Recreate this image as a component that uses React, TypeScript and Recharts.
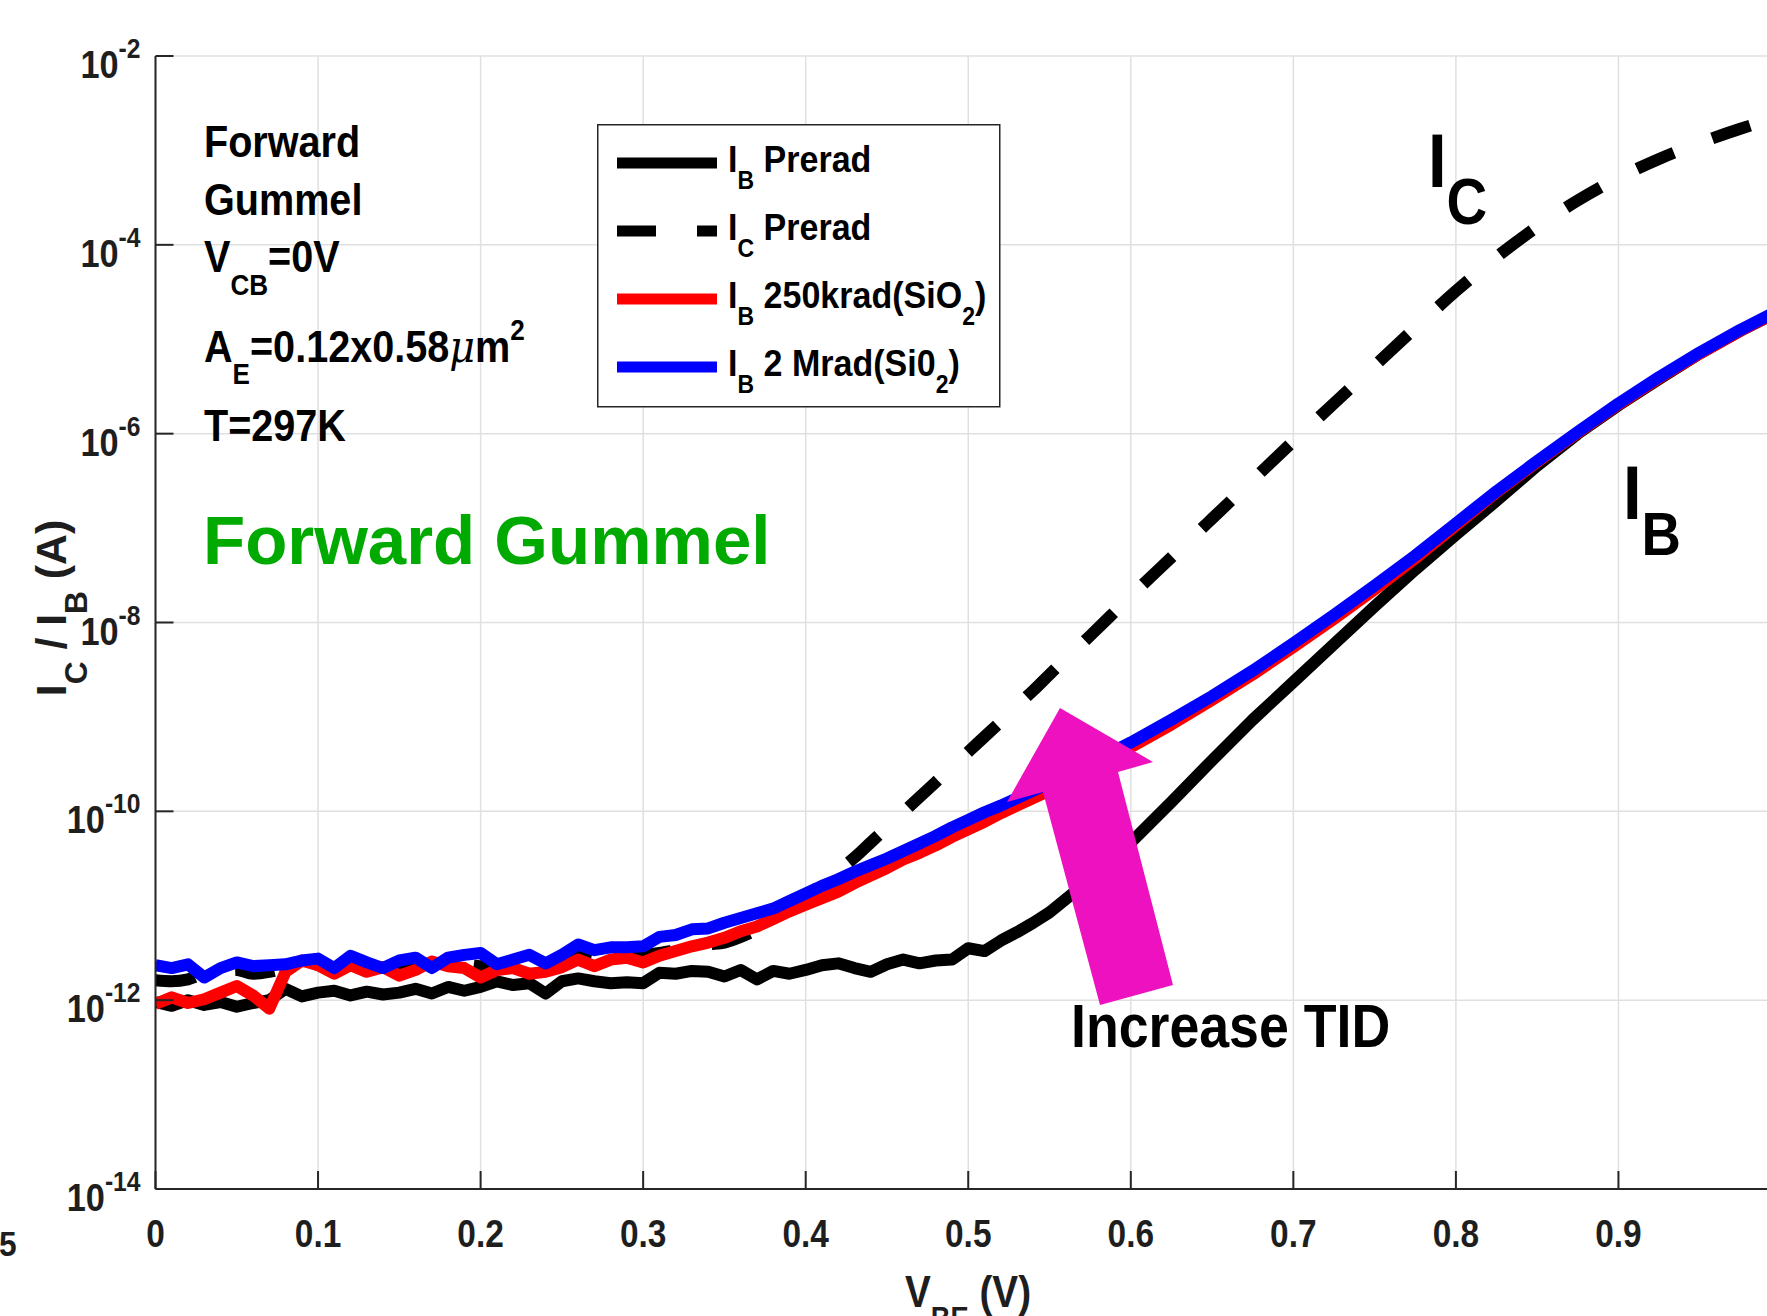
import React from "react";
import { LineChart, Line, XAxis, YAxis, CartesianGrid, Legend } from "recharts";

// Forward Gummel, V_CB = 0 V. Currents kept as log10(I [A]).
const VBE = [
  0, 0.01, 0.02, 0.03, 0.04, 0.05, 0.06, 0.07, 0.08, 0.09,
  0.1, 0.11, 0.12, 0.13, 0.14, 0.15, 0.16, 0.17, 0.18, 0.19,
  0.2, 0.21, 0.22, 0.23, 0.24, 0.25, 0.26, 0.27, 0.28, 0.29,
  0.3, 0.31, 0.32, 0.33, 0.34, 0.35, 0.36, 0.37, 0.38, 0.39,
  0.4, 0.41, 0.42, 0.43, 0.44, 0.45, 0.46, 0.47, 0.48, 0.49,
  0.5, 0.51, 0.52, 0.53, 0.54, 0.55,
  0.575, 0.6, 0.625, 0.65, 0.675, 0.7, 0.725, 0.75, 0.775, 0.8,
  0.825, 0.85, 0.875, 0.9, 0.925, 0.95, 0.975, 1.0,
];

const IB_PRERAD_LOG = [
  -12.02, -12.06, -12.0, -12.05, -12.02, -12.07, -12.03, -12.0, -11.88, -11.96,
  -11.92, -11.9, -11.95, -11.91, -11.94, -11.92, -11.88, -11.93, -11.86, -11.9,
  -11.86, -11.8, -11.84, -11.82, -11.93, -11.8, -11.77, -11.8, -11.82, -11.81,
  -11.82, -11.71, -11.72, -11.69, -11.7, -11.75, -11.68, -11.78, -11.69, -11.72,
  -11.68, -11.63, -11.61, -11.66, -11.7, -11.62, -11.57, -11.61, -11.58, -11.57,
  -11.45, -11.48, -11.37, -11.28, -11.18, -11.07,
  -10.72, -10.33, -9.9, -9.46, -9.03, -8.63, -8.23, -7.83, -7.44, -7.07,
  -6.71, -6.34, -6.0, -5.7, -5.42, -5.15, -4.91, -4.69,
];

const IC_PRERAD_LOG = [
  -11.79, -11.8, -11.78, -11.72, -11.7, -11.68, -11.72, -11.7, -11.66, -11.62,
  -11.62, -11.66, -11.6, -11.64, -11.63, -11.64, -11.6, -11.62, -11.6, -11.62,
  -11.64, -11.64, -11.62, -11.62, -11.65, -11.6, -11.52, -11.56, -11.52, -11.5,
  -11.52, -11.5, -11.47, -11.44, -11.41, -11.39, -11.33, -11.25, -11.15, -11.03,
  -10.9, -10.77, -10.63, -10.49, -10.33, -10.17, -10.01, -9.85, -9.69, -9.53,
  -9.37, -9.21, -9.05, -8.88, -8.72, -8.55,
  -8.14, -7.72, -7.31, -6.9, -6.49, -6.08, -5.68, -5.28, -4.88, -4.49,
  -4.13, -3.81, -3.53, -3.29, -3.09, -2.92, -2.77, -2.64,
];

const IB_250K_LOG = [
  -12.04, -11.97, -12.03, -11.99, -11.92, -11.85, -11.95, -12.09, -11.7, -11.58,
  -11.63, -11.72, -11.63, -11.7, -11.65, -11.74, -11.68, -11.59, -11.64, -11.66,
  -11.76, -11.68, -11.66, -11.72, -11.7, -11.65, -11.57, -11.64, -11.57, -11.55,
  -11.6, -11.53, -11.48, -11.43, -11.39, -11.34, -11.27, -11.22, -11.14, -11.06,
  -10.99, -10.92, -10.85, -10.76, -10.68, -10.6, -10.51, -10.44, -10.36, -10.27,
  -10.19, -10.11, -10.02, -9.94, -9.86, -9.78,
  -9.55, -9.32, -9.08, -8.82, -8.55, -8.26, -7.96, -7.65, -7.32, -6.97,
  -6.62, -6.3, -5.99, -5.69, -5.41, -5.15, -4.91, -4.69,
];

const IB_2M_LOG = [
  -11.63, -11.66, -11.62, -11.76, -11.66, -11.6, -11.64, -11.63, -11.62, -11.58,
  -11.56, -11.66, -11.53, -11.6, -11.66, -11.58, -11.55, -11.66, -11.55, -11.52,
  -11.5, -11.62, -11.57, -11.52, -11.61, -11.52, -11.41, -11.47, -11.44, -11.44,
  -11.43, -11.33, -11.31, -11.25, -11.24, -11.18, -11.13, -11.08, -11.03, -10.95,
  -10.87, -10.79, -10.72, -10.64, -10.57, -10.5, -10.42, -10.34, -10.26, -10.17,
  -10.09, -10.01, -9.94, -9.86, -9.78, -9.7,
  -9.49, -9.27, -9.03, -8.78, -8.51, -8.22, -7.92, -7.61, -7.29, -6.95,
  -6.61, -6.29, -5.98, -5.68, -5.4, -5.14, -4.9, -4.68,
];

const X_TICKS = [0, 0.1, 0.2, 0.3, 0.4, 0.5, 0.6, 0.7, 0.8, 0.9];
const Y_TICKS = [1e-14, 1e-12, 1e-10, 1e-8, 1e-6, 1e-4, 1e-2];

const rows = VBE.map((v, i) => ({
  v,
  ibPre: Math.pow(10, IB_PRERAD_LOG[i]),
  icPre: Math.pow(10, IC_PRERAD_LOG[i]),
  ib250: Math.pow(10, IB_250K_LOG[i]),
  ib2m: Math.pow(10, IB_2M_LOG[i]),
}));

const FONT = "'Liberation Sans', Arial, Helvetica, sans-serif";
const SQ = 0.88; // the figure uses a narrow bold face
const AXIS = "#262626";
const TICK_LEN = 18;
const LINE_W = 12;

type Part = { t: string; sub?: boolean; sup?: boolean; mu?: boolean };

function Rich({ parts, size, small, down, up = 0 }: { parts: Part[]; size: number; small: number; down: number; up?: number }) {
  let cur = 0;
  return (
    <>
      {parts.map((p, i) => {
        const target = p.sub ? down : p.sup ? -up : 0;
        const dy = target - cur;
        cur = target;
        const extra = p.mu
          ? { fontFamily: "'DejaVu Serif', serif", fontStyle: "italic", fontWeight: 400 }
          : {};
        return (
          <tspan key={i} dy={dy} fontSize={p.sub || p.sup ? small : size} {...extra}>
            {p.t}
          </tspan>
        );
      })}
    </>
  );
}

function NText({ x, y, size, anchor = "start", fill = "#000", scale = SQ, rotate = 0, children }: any) {
  return (
    <text
      transform={`translate(${x},${y}) rotate(${rotate}) scale(${scale},1)`}
      fontSize={size}
      fontFamily={FONT}
      fontWeight={700}
      textAnchor={anchor}
      fill={fill}
      style={{ whiteSpace: "pre" }}
    >
      {children}
    </text>
  );
}

// tick helpers: tickSize 0 and tickMargin 0, so (x, y) is where the tick meets the axis
function BottomTick({ x, y, payload }: any) {
  const label = Number(payload.value.toFixed(1)).toString();
  return (
    <g>
      <line x1={x} x2={x} y1={y} y2={y - TICK_LEN} stroke={AXIS} strokeWidth={2} />
      <NText x={x} y={y + 58} size={38} anchor="middle" fill="#1e1e1e">{label}</NText>
    </g>
  );
}

function TopTick({ x, y }: any) {
  return <line x1={x} x2={x} y1={y} y2={y + TICK_LEN} stroke={AXIS} strokeWidth={2} />;
}

function LeftTick({ x, y, payload }: any) {
  const exp = Math.round(Math.log10(payload.value));
  return (
    <g>
      <line x1={x} x2={x + TICK_LEN} y1={y} y2={y} stroke={AXIS} strokeWidth={2} />
      <NText x={x - 15} y={y + 22} size={39} anchor="end" fill="#1e1e1e">
        <Rich parts={[{ t: "10" }, { t: String(exp), sup: true }]} size={39} small={28} down={0} up={20} />
      </NText>
    </g>
  );
}

function RightTick({ x, y }: any) {
  return <line x1={x} x2={x - TICK_LEN} y1={y} y2={y} stroke={AXIS} strokeWidth={2} />;
}

const LEGEND_ITEMS: { color: string; dash?: string; parts: Part[] }[] = [
  { color: "#000000", parts: [{ t: "I" }, { t: "B", sub: true }, { t: " Prerad" }] },
  { color: "#000000", dash: "39 41", parts: [{ t: "I" }, { t: "C", sub: true }, { t: " Prerad" }] },
  { color: "#ff0000", parts: [{ t: "I" }, { t: "B", sub: true }, { t: " 250krad(SiO" }, { t: "2", sub: true }, { t: ")" }] },
  { color: "#0000ff", parts: [{ t: "I" }, { t: "B", sub: true }, { t: " 2 Mrad(Si0" }, { t: "2", sub: true }, { t: ")" }] },
];

function LegendBox() {
  return (
    <svg width={404} height={284} style={{ display: "block" }}>
      <rect x={0.75} y={0.75} width={402} height={282} fill="#fff" stroke={AXIS} strokeWidth={1.5} />
      {LEGEND_ITEMS.map((it, i) => {
        const cy = 39 + i * 68;
        return (
          <g key={i}>
            <line x1={20} x2={120} y1={cy} y2={cy} stroke={it.color} strokeWidth={11} strokeDasharray={it.dash} />
            <NText x={131} y={cy + 9} size={37} scale={0.92}>
              <Rich parts={it.parts} size={37} small={25} down={17} />
            </NText>
          </g>
        );
      })}
    </svg>
  );
}

function Overlay() {
  return (
    <svg
      width={1767}
      height={1316}
      style={{ position: "absolute", left: 0, top: 0, pointerEvents: "none" }}
    >
      {/* condition block */}
      <NText x={204} y={157} size={44} scale={0.9}>Forward</NText>
      <NText x={204} y={215} size={44} scale={0.9}>Gummel</NText>
      <NText x={204} y={272} size={44} scale={0.9}>
        <Rich parts={[{ t: "V" }, { t: "CB", sub: true }, { t: "=0V" }]} size={44} small={29} down={23} />
      </NText>
      <NText x={204} y={362} size={44} scale={0.9}>
        <Rich
          parts={[{ t: "A" }, { t: "E", sub: true }, { t: "=0.12x0.58" }, { t: "\u03bc", mu: true }, { t: "m" }, { t: "2", sup: true }]}
          size={44}
          small={29}
          down={22}
          up={22}
        />
      </NText>
      <NText x={204} y={441} size={44} scale={0.9}>T=297K</NText>

      <NText x={203} y={564} size={69} scale={1} fill="#00aa00">Forward Gummel</NText>

      {/* curve labels */}
      <NText x={1428} y={187} size={76}>
        <Rich parts={[{ t: "I" }, { t: "C", sub: true }]} size={76} small={64} down={37} />
      </NText>
      <NText x={1623} y={519} size={76}>
        <Rich parts={[{ t: "I" }, { t: "B", sub: true }]} size={76} small={62} down={36} />
      </NText>

      {/* TID arrow */}
      <polygon points="1060,708 1153,762 1118,772 1173,985 1100,1005 1043,792 1007,802" fill="#ee11c0" />
      <NText x={1071} y={1047} size={61}>Increase TID</NText>

      {/* axis titles */}
      <NText x={968} y={1307} size={44} anchor="middle" fill="#1e1e1e">
        <Rich parts={[{ t: "V" }, { t: "BE", sub: true }, { t: " (V)" }]} size={44} small={31} down={22} />
      </NText>
      <NText x={66} y={608} size={42} scale={1.02} anchor="middle" rotate={-90} fill="#1e1e1e">
        <Rich parts={[{ t: "I" }, { t: "C", sub: true }, { t: " / I" }, { t: "B", sub: true }, { t: " (A)" }]} size={42} small={31} down={21} />
      </NText>

      {/* fragment of the neighbouring panel */}
      <NText x={-1} y={1256} size={36} fill="#1e1e1e">5</NText>
    </svg>
  );
}

export default function App() {
  return (
    <div style={{ position: "absolute", left: 0, top: 0, width: 1767, height: 1316, overflow: "hidden", background: "#fff" }}>
      <LineChart width={1781} height={1316} data={rows} margin={{ top: 56, right: 0, bottom: 0, left: 0 }}>
        <CartesianGrid stroke="#e0e0e0" strokeWidth={1.5} />
        <XAxis
          dataKey="v"
          type="number"
          domain={[0, 1]}
          ticks={X_TICKS}
          interval={0}
          allowDataOverflow
          height={127}
          tickSize={0}
          tickMargin={0}
          tickLine={false}
          axisLine={{ stroke: AXIS, strokeWidth: 2 }}
          tick={<BottomTick />}
        />
        <XAxis
          xAxisId="top"
          orientation="top"
          dataKey="v"
          type="number"
          domain={[0, 1]}
          ticks={X_TICKS}
          interval={0}
          allowDataOverflow
          height={0}
          tickSize={0}
          tickMargin={0}
          tickLine={false}
          axisLine={{ stroke: AXIS, strokeWidth: 2 }}
          tick={<TopTick />}
        />
        <YAxis
          type="number"
          scale="log"
          domain={[1e-14, 1e-2]}
          ticks={Y_TICKS}
          interval={0}
          allowDataOverflow
          width={155.5}
          tickSize={0}
          tickMargin={0}
          tickLine={false}
          axisLine={{ stroke: AXIS, strokeWidth: 2 }}
          tick={<LeftTick />}
        />
        <YAxis
          yAxisId="right"
          orientation="right"
          type="number"
          scale="log"
          domain={[1e-14, 1e-2]}
          ticks={Y_TICKS}
          interval={0}
          allowDataOverflow
          width={0}
          tickSize={0}
          tickMargin={0}
          tickLine={false}
          axisLine={{ stroke: AXIS, strokeWidth: 2 }}
          tick={<RightTick />}
        />
        <Legend
          layout="vertical"
          align="center"
          verticalAlign="middle"
          wrapperStyle={{ position: "absolute", left: 597, top: 124, width: 404, height: 284, margin: 0, padding: 0 }}
          content={() => <LegendBox />}
        />
        <Line dataKey="ibPre" name="IB Prerad" stroke="#000000" strokeWidth={LINE_W} strokeLinejoin="round" dot={false} isAnimationActive={false} />
        <Line type="monotone" dataKey="icPre" name="IC Prerad" stroke="#000000" strokeWidth={LINE_W} strokeDasharray="40 41" dot={false} isAnimationActive={false} />
        <Line dataKey="ib250" name="IB 250krad(SiO2)" stroke="#ff0000" strokeWidth={LINE_W} strokeLinejoin="round" dot={false} isAnimationActive={false} />
        <Line dataKey="ib2m" name="IB 2 Mrad(Si02)" stroke="#0000ff" strokeWidth={LINE_W} strokeLinejoin="round" dot={false} isAnimationActive={false} />
      </LineChart>
      <Overlay />
    </div>
  );
}
